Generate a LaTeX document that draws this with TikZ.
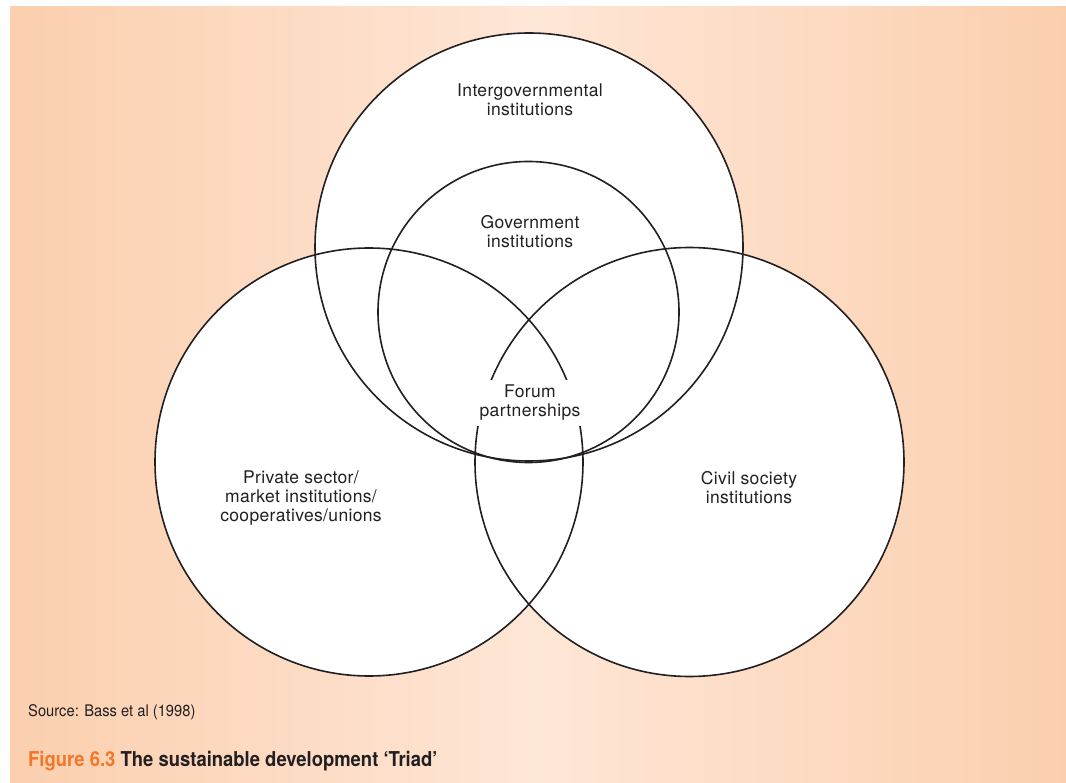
\documentclass[tikz,border=0pt]{standalone}
\usepackage{fontspec}
\setmainfont{TeX Gyre Heros}[LetterSpace=2]
\newfontfamily\capfont{TeX Gyre Heros}[FakeStretch=0.9]
\newfontfamily\srcfont{TeX Gyre Heros}[FakeStretch=0.92]
\usetikzlibrary{positioning}

\definecolor{peach}{RGB}{251,207,174}
\definecolor{peachlight}{RGB}{254,230,214}
\definecolor{figorange}{RGB}{240,120,40}
\definecolor{ink}{RGB}{35,31,32}

\tikzset{
  ring/.style={circle, draw=ink, line width=1.6pt, fill=white, inner sep=0pt},
  label/.style={align=center, text=ink, font=\fontsize{17.5}{19}\selectfont, inner sep=1pt}
}

\begin{document}
\begin{tikzpicture}[x=1pt, y=-1pt]
      \useasboundingbox [fill=white] (0,0) rectangle (1066,783);
      \shade [left color=peach, right color=peachlight] (10,7) rectangle (538,783);
      \shade [left color=peachlight, right color=peach] (538,7) rectangle (1066,783);
      % white fills first, outlines after
      \node [ring, draw=none, minimum size=428pt] (inter-fill) at (529,247) {};
      \node [ring, draw=none, minimum size=428pt] (priv-fill) at (369,462) {};
      \node [ring, draw=none, minimum size=429pt] (civil-fill) at (689.5,462) {};
      \node [ring, fill=none, minimum size=428pt] (inter) at (529,247) {};
      \node [ring, fill=none, minimum size=301pt] (gov) at (528.5,312) {};
      \node [ring, fill=none, minimum size=428pt] (priv) at (369,462) {};
      \node [ring, fill=none, minimum size=429pt] (civil) at (689.5,462) {};
      \node [label] (inter-text) at (530,100) {Intergovernmental\\institutions};
      \node [label] (gov-text) at (530,232) {Government\\institutions};
      \node [label, fill=white, inner xsep=6pt, inner ysep=5pt] (forum-text) at (530,403) {Forum\\partnerships};
      \node [label] (priv-text) at (301,498) {Private sector/\\market institutions/\\cooperatives/unions};
      \node [label] (civil-text) at (749,488) {Civil society\\institutions};
      \node [anchor=base west, inner sep=0pt, text=ink, font=\srcfont\fontsize{16}{18}\selectfont] (source) at (28,716) {Source: Bass et al (1998)};
      \node [anchor=base west, inner sep=0pt, text=ink, font=\capfont\bfseries\fontsize{20.5}{22}\selectfont] (caption) at (28,766) {\textcolor{figorange}{Figure 6.3} The sustainable development ‘Triad’};
\end{tikzpicture}
\end{document}
